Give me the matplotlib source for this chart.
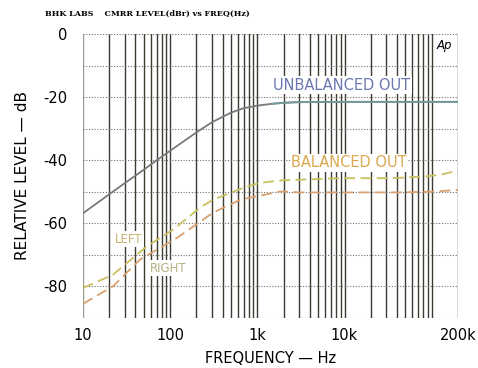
import matplotlib
matplotlib.use("Agg")
from matplotlib import pyplot
import numpy as np

# unbalanced out (solid grey, flat part teal)
unb_f = [10, 15, 20, 30, 50, 70, 100, 150, 200, 300, 500, 700, 1000, 1500, 2000, 3000, 10000, 50000, 200000]
unb_db = [-56.8, -53.3, -50.8, -47.3, -43, -40, -37, -33.6, -31.2, -28, -24.9, -23.5, -22.7, -22.1, -21.8,
          -21.6, -21.5, -21.5, -21.5]
# balanced out, left channel
left_f = [10, 22, 54, 108, 221, 311, 760, 1070, 1830, 8900, 34000, 81000, 126000, 178000, 200000]
left_db = [-80.5, -76.3, -67.3, -62, -55, -52.5, -48.3, -47.2, -46.4, -45.7, -45.7, -45.2, -44.6, -43.6, -43.2]
# balanced out, right channel
right_f = [10, 22, 45, 120, 311, 640, 1830, 3000, 10000, 40000, 100000, 200000]
right_db = [-85.5, -80, -71.5, -64.6, -56.6, -52.5, -49.9, -50.2, -50.2, -50.2, -50.0, -49.4]

xticks = [10, 100, 1000, 10000, 200000]
xticklabels = ['10', '100', '1k', '10k', '200k']
yticks = [0, -20, -40, -60, -80]

fig = pyplot.figure(figsize=(4.78, 3.68), dpi=100)
ax = fig.add_axes([0.1736, 0.1359, 0.958 - 0.1736, 0.9076 - 0.1359])
ax.set_xscale('log')
ax.set_xlim(10, 200000)
ax.set_ylim(-90, 0)

# grid: dark verticals at 1..9 multiples, dotted horizontals each 10 dB
for dec in [10, 100, 1000, 10000, 100000]:
    for m in range(1, 10):
        f = dec * m
        if f <= 200000:
            c = '#9a9a90' if f == 10 else '#3c3c30'
            ax.axvline(f, color=c, lw=1.0, zorder=1)
for yv in range(-90, 1, 10):
    ax.axhline(yv, color='#707070', lw=0.8, ls=(0, (1, 1.5)), zorder=1)

uf = np.array(unb_f)
ud = np.array(unb_db)
ax.plot(uf, ud, color='#767a7a', lw=1.3, zorder=3)
flat = uf >= 1500
ax.plot(uf[flat], ud[flat], color='#6f9c98', lw=1.3, zorder=3)
ax.plot(left_f, left_db, color='#c9c060', lw=1.3, ls=(0, (6, 3)), zorder=3)
ax.plot(right_f, right_db, color='#d9a070', lw=1.3, ls=(0, (6, 3)), zorder=3)

for s in ax.spines.values():
    s.set_visible(False)
ax.tick_params(axis='x', length=0, labelsize=10.5, pad=7)
ax.tick_params(axis='y', length=0, labelsize=10.5, pad=11)
ax.set_xticks(xticks)
ax.set_xticklabels(xticklabels)
ax.minorticks_off()
ax.set_yticks(yticks)
ax.set_yticklabels(['0', '-20', '-40', '-60', '-80'])
ax.set_xlabel('FREQUENCY — Hz', fontsize=10.5, labelpad=6)
ax.set_ylabel('RELATIVE LEVEL — dB', fontsize=11, labelpad=10)

bb = dict(facecolor='white', edgecolor='none', pad=1)
ax.text(0.69, 0.82, 'UNBALANCED OUT', transform=ax.transAxes, ha='center', va='center',
        color='#6a78b0', fontsize=10.5, bbox=bb, zorder=4)
ax.text(0.71, 0.546, 'BALANCED OUT', transform=ax.transAxes, ha='center', va='center',
        color='#dba850', fontsize=10.5, bbox=bb, zorder=4)
ax.text(0.123, 0.278, 'LEFT', transform=ax.transAxes, ha='center', va='center',
        color='#c8b070', fontsize=8.5, bbox=bb, zorder=4)
ax.text(0.227, 0.176, 'RIGHT', transform=ax.transAxes, ha='center', va='center',
        color='#b8b080', fontsize=8.5, bbox=bb, zorder=4)
ax.text(0.965, 0.96, 'Ap', transform=ax.transAxes, ha='center', va='center',
        color='black', fontsize=8.5, style='italic', bbox=bb, zorder=4)

fig.text(45 / 478, 1 - 14 / 368, 'BHK LABS    CMRR LEVEL(dBr) vs FREQ(Hz)', fontsize=5.8,
         family='DejaVu Serif', weight='bold', va='center', ha='left')

fig.savefig('out.png', dpi=100)
